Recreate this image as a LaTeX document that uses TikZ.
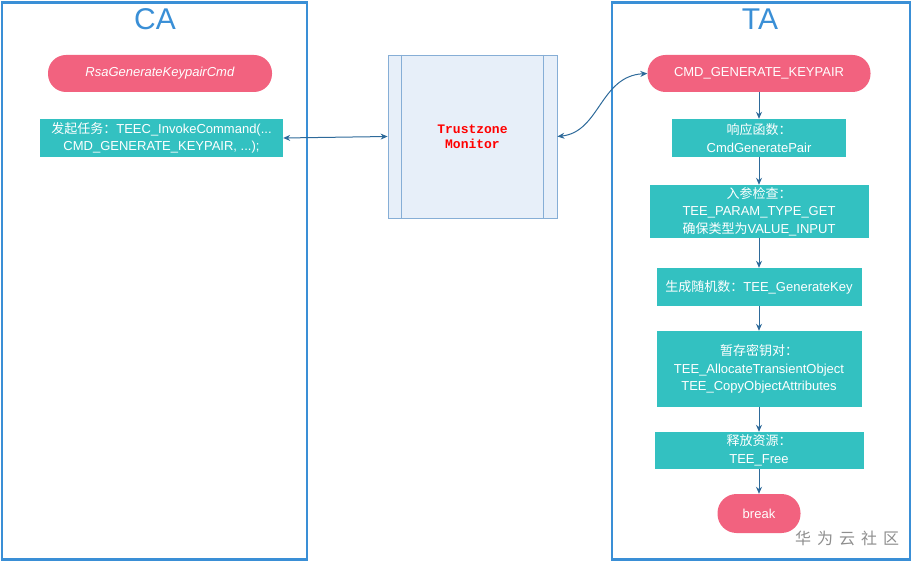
\documentclass[tikz,border=0pt]{standalone}
\usepackage{fontspec}
\setmainfont{Liberation Sans}
\newfontfamily\cjk{Noto Sans CJK SC}
\newfontfamily\monob{Liberation Mono}
\usetikzlibrary{arrows.meta}
\definecolor{pinkc}{HTML}{F2627F}
\definecolor{tealc}{HTML}{33C1C1}
\definecolor{panelc}{HTML}{3A8FD6}
\definecolor{arrc}{HTML}{2E6A9A}
\definecolor{monfill}{HTML}{E7EFF9}
\definecolor{mondraw}{HTML}{86AED6}
\definecolor{wmark}{HTML}{8E8E8E}
\tikzset{
  panel/.style={draw=panelc, line width=2.6pt, minimum width=305pt, minimum height=557pt, inner sep=0pt},
  title/.style={text=panelc, font=\fontsize{30}{32}\selectfont},
  pill/.style={fill=pinkc, rounded corners=18pt, text=white, minimum height=37pt, inner sep=0pt, font=\fontsize{13}{17}\selectfont},
  stepbox/.style={fill=tealc, text=white, align=center, inner sep=0pt, font=\fontsize{13}{17.5}\selectfont},
  arr/.style={draw=arrc, line width=1pt, -{Stealth[length=7pt,width=6pt]}},
  darr/.style={draw=arrc, line width=1pt, {Stealth[length=7pt,width=6pt]}-{Stealth[length=7pt,width=6pt]}},
}
\begin{document}
\begin{tikzpicture}[x=1pt,y=-1pt]
\useasboundingbox (0,0) rectangle (914,564);
% panels
\node[panel] (ca) at (154.5,281) {};
\node[panel, minimum width=298pt] (ta) at (761,281) {};
\node[title] (catitle) at (155,19) {CA};
\node[title] (tatitle) at (760,19) {TA};
% CA side
\node[pill, minimum width=224pt] (rsa) at (160,73.5) {\textit{RsaGenerateKeypairCmd}};
\node[stepbox, minimum width=243pt, minimum height=38pt] (catask) at (161.5,138) {{\cjk 发起任务：}TEEC\_InvokeCommand(...\\CMD\_GENERATE\_KEYPAIR, ...);};
% monitor
\node[draw=mondraw, fill=monfill, line width=0.8pt, minimum width=169pt, minimum height=163pt, inner sep=0pt] (mon) at (472.5,136.5) {};
\draw[mondraw, line width=0.8pt] ([xshift=14pt]mon.north west) -- ([xshift=14pt]mon.south west);
\draw[mondraw, line width=0.8pt] ([xshift=-14pt]mon.north east) -- ([xshift=-14pt]mon.south east);
\node[text=red, align=center, font=\monob\bfseries\fontsize{13}{15}\selectfont] (montext) at (472.5,137) {Trustzone\\Monitor};
% TA side
\node[pill, minimum width=223pt] (cmd) at (759,73.5) {CMD\_GENERATE\_KEYPAIR};
\node[stepbox, minimum width=174pt, minimum height=38pt] (b2) at (759,138) {{\cjk 响应函数：}\\CmdGeneratePair};
\node[stepbox, minimum width=219pt, minimum height=53pt] (b3) at (759,211.5) {{\cjk 入参检查：}\\TEE\_PARAM\_TYPE\_GET\\{\cjk 确保类型为}VALUE\_INPUT};
\node[stepbox, minimum width=205pt, minimum height=38pt] (b4) at (759,287) {{\cjk 生成随机数：}TEE\_GenerateKey};
\node[stepbox, minimum width=205pt, minimum height=76pt] (b5) at (759,369) {{\cjk 暂存密钥对：}\\TEE\_AllocateTransientObject\\TEE\_CopyObjectAttributes};
\node[stepbox, minimum width=209pt, minimum height=37pt] (b6) at (759,450.5) {{\cjk 释放资源：}\\TEE\_Free};
\node[pill, minimum width=83pt, minimum height=39pt, rounded corners=19pt] (brk) at (759,513.5) {break};
% arrows
\draw[darr] (catask.east) -- (mon.west);
\draw[darr] (mon.east) .. controls (600,132) and (600,76) .. (cmd.west);
\draw[arr] (cmd) -- (b2);
\draw[arr] (b2) -- (b3);
\draw[arr] (b3) -- (b4);
\draw[arr] (b4) -- (b5);
\draw[arr] (b5) -- (b6);
\draw[arr] (b6) -- (brk);
% watermark
\node[text=wmark, font=\cjk\fontsize{16}{17}\selectfont] (wm) at (847,538) {华\hspace{6pt}为\hspace{6pt}云\hspace{6pt}社\hspace{6pt}区};
\end{tikzpicture}
\end{document}
